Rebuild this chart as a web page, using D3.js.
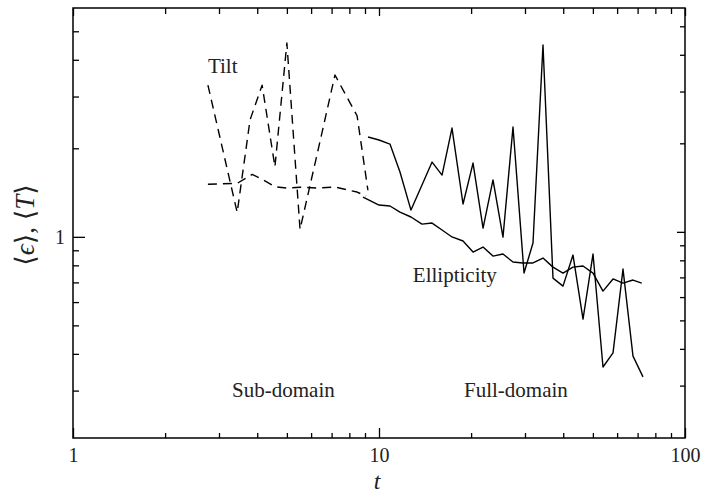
<!DOCTYPE html>
<html>
<head>
<meta charset="utf-8">
<script src="https://cdnjs.cloudflare.com/ajax/libs/d3/7.8.5/d3.min.js"></script>
<style>
    body { margin: 0; background: #fff; }
    #chartArea { width: 703px; height: 495px; }
    text { font-family: "Liberation Serif", "DejaVu Serif", serif; fill: #222; }
</style>
</head>
<body>
<div id="chartArea"></div>
<script>
// values (t on log axis, averages on log axis)

// sub-domain, dashed
var subTiltT = [2.76, 3.44, 3.79, 4.15, 4.57, 5.0, 5.52, 6.32, 7.18, 8.48, 9.2];
var subTiltV = [3.28, 1.21, 2.50, 3.28, 1.73, 4.56, 1.06, 1.97, 3.55, 2.58, 1.44];
var subEllT = [2.76, 3.44, 3.85, 4.15, 4.57, 5.0, 5.52, 6.32, 7.18, 8.48, 9.07];
var subEllV = [1.51, 1.52, 1.63, 1.57, 1.48, 1.465, 1.475, 1.465, 1.477, 1.42, 1.376];

// full-domain, solid
var fullTiltT = [9.21, 10.0, 10.86, 11.71, 12.72, 13.82, 14.91, 16.07, 17.32, 18.82, 20.29, 21.88, 23.58, 25.42,
    27.41, 29.78, 31.86, 34.35, 37.03, 39.93, 43.05, 46.42, 50.05, 53.95, 58.18, 62.72, 67.62, 72.9];
var fullTiltV = [2.185, 2.134, 2.068, 1.661, 1.233, 1.50, 1.796, 1.622, 2.344, 1.293, 1.782, 1.071, 1.561, 0.998,
    2.362, 0.753, 0.953, 4.489, 0.724, 0.680, 0.867, 0.525, 0.874, 0.361, 0.403, 0.777, 0.393, 0.334];
var fullEllT = [8.87, 10.0, 10.86, 11.71, 12.72, 13.82, 14.91, 16.07, 17.32, 18.82, 20.29, 21.88, 23.58, 25.42,
    27.41, 29.5, 31.86, 34.35, 37.03, 39.93, 43.05, 46.42, 50.05, 53.95, 58.18, 62.72, 67.62, 72.2];
var fullEllV = [1.366, 1.283, 1.273, 1.214, 1.168, 1.105, 1.114, 1.055, 0.999, 0.968, 0.888, 0.923, 0.860, 0.874,
    0.821, 0.815, 0.815, 0.847, 0.789, 0.753, 0.789, 0.796, 0.753, 0.654, 0.719, 0.696, 0.713, 0.696];

// ticks
var xMajor = [1, 10, 100];
var xMinor = [2, 3, 4, 5, 6, 7, 8, 9, 20, 30, 40, 50, 60, 70, 80, 90];
var yMajor = [1];
var yMinor = [0.3, 0.4, 0.5, 0.6, 0.7, 0.8, 0.9, 2, 3, 4, 5];

// annotations (left edge / baseline, in data units)
var labels = [
    {text: "Tilt", t: 2.76, v: 3.6},
    {text: "Ellipticity", t: 12.9, v: 0.702},
    {text: "Sub-domain", t: 3.31, v: 0.285},
    {text: "Full-domain", t: 18.96, v: 0.285}
];

var W = 703, H = 495;
var padL = 73, padR = 685, padT = 8, padB = 438;

var svg = d3.select("#chartArea").append("svg")
    .attr("width", W)
    .attr("height", H);

var x = d3.scaleLog().domain([1, 100]).range([padL, padR]);
var y = d3.scaleLog().domain([0.207, 6]).range([padB, padT]);

//draw ticks, inward, majors longer than minors
function ticks(axisFn, scale, vals, size, pos, labelled, pad) {
    var a = axisFn(scale).tickValues(vals).tickSizeInner(-size).tickSizeOuter(0).tickPadding(pad || 8);
    if (!labelled) a.tickFormat("");
    else a.tickFormat(d3.format("d"));
    var g = svg.append("g").attr("transform", pos).call(a);
    g.select(".domain").remove();
    g.selectAll(".tick line").attr("stroke", "#000").attr("stroke-width", 1.3);
    g.selectAll("text").attr("font-size", 20).attr("fill", "#222")
        .style("font-family", '"Liberation Serif", serif');
    return g;
}

ticks(d3.axisBottom, x, xMajor, 10, "translate(0," + padB + ")", true, 10);
ticks(d3.axisBottom, x, xMinor, 5, "translate(0," + padB + ")", false);
ticks(d3.axisTop, x, xMajor, 8, "translate(0," + padT + ")", false);
ticks(d3.axisTop, x, xMinor, 6, "translate(0," + padT + ")", false);
ticks(d3.axisLeft, y, yMajor, 12, "translate(" + padL + ",0)", true, 8);
ticks(d3.axisLeft, y, yMinor, 6, "translate(" + padL + ",0)", false);
// right side ticks sit a few pixels higher in the original
ticks(d3.axisRight, y, yMajor, 8, "translate(" + padR + ",-5)", false);
ticks(d3.axisRight, y, yMinor, 5, "translate(" + padR + ",-5)", false);

//frame
svg.append("rect")
    .attr("x", padL).attr("y", padT)
    .attr("width", padR - padL).attr("height", padB - padT)
    .attr("fill", "none").attr("stroke", "#000").attr("stroke-width", 1.5);

var line = d3.line()
    .x(d => x(d[0]))
    .y(d => y(d[1]));

function series(ts, vs, dashed) {
    svg.append("path")
        .datum(d3.zip(ts, vs))
        .attr("d", line)
        .attr("fill", "none")
        .attr("stroke", "#000")
        .attr("stroke-width", 1.4)
        .attr("stroke-linejoin", "round")
        .attr("stroke-dasharray", dashed ? "9,6" : null);
}

series(subTiltT, subTiltV, true);
series(subEllT, subEllV, true);
series(fullTiltT, fullTiltV, false);
series(fullEllT, fullEllV, false);

svg.selectAll(".note")
    .data(labels)
    .enter().append("text")
    .attr("class", "note")
    .attr("x", d => x(d.t))
    .attr("y", d => y(d.v))
    .attr("font-size", 21)
    .text(d => d.text);

//axis titles
svg.append("text")
    .attr("x", 377).attr("y", 489)
    .attr("text-anchor", "middle")
    .attr("font-size", 24)
    .attr("font-style", "italic")
    .text("t");

svg.append("text")
    .attr("transform", "translate(34,225) rotate(-90)")
    .attr("text-anchor", "middle")
    .attr("font-size", 27)
    .html('⟨<tspan font-style="italic">ϵ</tspan>⟩, ⟨<tspan font-style="italic">T</tspan>⟩');
</script>
</body>
</html>
